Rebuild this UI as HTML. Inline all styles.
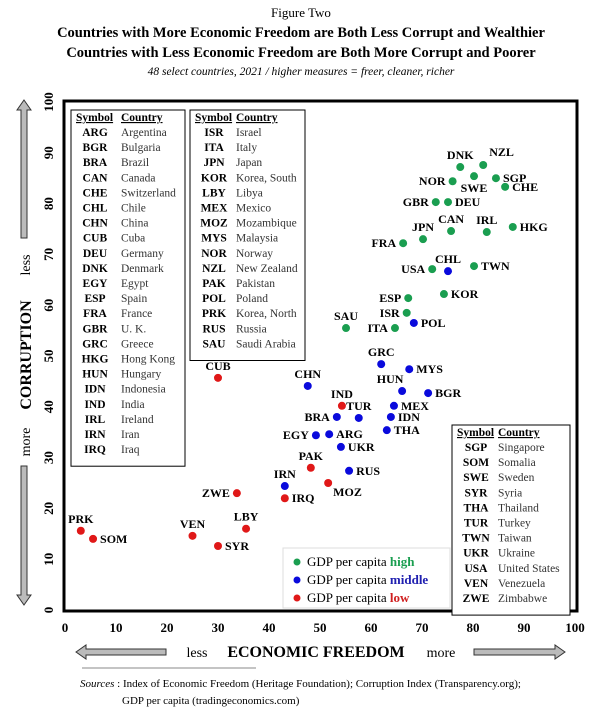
<!DOCTYPE html>
<html><head><meta charset="utf-8">
<style>
html,body{margin:0;padding:0;background:#fff;}
svg{display:block;font-family:"Liberation Serif",serif;}
</style></head>
<body>
<svg id="chart" width="602" height="713" viewBox="0 0 602 713" xmlns="http://www.w3.org/2000/svg">
<text x="301" y="17" text-anchor="middle" font-size="13">Figure Two</text>
<text x="301" y="37" text-anchor="middle" font-size="14.5" font-weight="bold">Countries with More Economic Freedom are Both Less Corrupt and Wealthier</text>
<text x="301" y="57" text-anchor="middle" font-size="14.5" font-weight="bold">Countries with Less Economic Freedom are Both More Corrupt and Poorer</text>
<text x="301" y="75" text-anchor="middle" font-size="11.5" font-style="italic">48 select countries, 2021 / higher measures = freer, cleaner, richer</text>
<rect x="64" y="101" width="513" height="510" fill="none" stroke="#000" stroke-width="3"/>
<g id="ticks"></g>
<g id="tables"></g>
<g id="points"></g>
<g>
<rect x="283" y="548" width="167" height="60" fill="#fff" stroke="#ddd" stroke-width="1"/>
<circle cx="297" cy="562" r="3.5" fill="#1a9e50"/>
<text x="307" y="566" font-size="13">GDP per capita <tspan fill="#1a9e50" font-weight="bold">high</tspan></text>
<circle cx="297" cy="580" r="3.5" fill="#0a0adc"/>
<text x="307" y="584" font-size="13">GDP per capita <tspan fill="#2020b0" font-weight="bold">middle</tspan></text>
<circle cx="297" cy="598" r="3.5" fill="#e01818"/>
<text x="307" y="602" font-size="13">GDP per capita <tspan fill="#d02020" font-weight="bold">low</tspan></text>
</g>
<g>
<path d="M24 100 L31 110 L27 110 L27 238 L21 238 L21 110 L17 110 Z" fill="#bbb" stroke="#333" stroke-width="1"/>
<path d="M24 605 L31 595 L27 595 L27 466 L21 466 L21 595 L17 595 Z" fill="#bbb" stroke="#333" stroke-width="1"/>
<text transform="translate(30,265) rotate(-90)" text-anchor="middle" font-size="14">less</text>
<text transform="translate(31,355) rotate(-90)" text-anchor="middle" font-size="16" font-weight="bold">CORRUPTION</text>
<text transform="translate(30,442) rotate(-90)" text-anchor="middle" font-size="14">more</text>
</g>
<g>
<path d="M76 652 L86 645 L86 649 L166 649 L166 655 L86 655 L86 659 Z" fill="#bbb" stroke="#333" stroke-width="1"/>
<path d="M565 652 L555 645 L555 649 L474 649 L474 655 L555 655 L555 659 Z" fill="#bbb" stroke="#333" stroke-width="1"/>
<text x="197" y="657" text-anchor="middle" font-size="14">less</text>
<text x="316" y="657" text-anchor="middle" font-size="16" font-weight="bold">ECONOMIC FREEDOM</text>
<text x="441" y="657" text-anchor="middle" font-size="14">more</text>
</g>
<line x1="82" y1="668" x2="256" y2="668" stroke="#888" stroke-width="1"/>
<text x="80" y="687" font-size="11"><tspan font-style="italic">Sources</tspan> :  Index of Economic Freedom (Heritage Foundation); Corruption Index (Transparency.org);</text>
<text x="122" y="704" font-size="11">GDP per capita (tradingeconomics.com)</text>
</svg>
<script>
const codes=["ARG","BGR","BRA","CAN","CHE","CHL","CHN","CUB","DEU","DNK","EGY","ESP","FRA","GBR","GRC","HKG","HUN","IDN","IND","IRL","IRN","IRQ","ISR","ITA","JPN","KOR","LBY","MEX","MOZ","MYS","NOR","NZL","PAK","POL","PRK","RUS","SAU","SGP","SOM","SWE","SYR","THA","TUR","TWN","UKR","USA","VEN","ZWE"];
const freedom=[51.8,71.2,53.3,75.7,86.3,75.1,47.6,30,75.1,77.5,49.2,67.3,66.3,72.7,62,87.8,66.1,63.9,54.3,82.7,43.1,43.1,67,64.7,70.2,74.3,35.5,64.5,51.6,67.5,76,82,48.2,68.4,3.1,55.7,55.1,84.5,5.5,80.2,30,63.1,57.6,80.2,54.1,72,25,33.7];
const corruption=[34.6,42.7,38,74.6,83.3,66.7,44.1,45.7,80.3,87.2,34.4,61.4,72.2,80.3,48.4,75.4,43.1,38,40.2,74.4,24.4,22,58.5,55.5,73,62.2,16,40.2,25,47.4,84.4,87.6,28,56.5,15.6,27.4,55.5,85,14,85.4,12.6,35.4,37.8,67.7,32.1,67.1,14.6,23];
const gdp=["M","M","M","H","H","M","M","L","H","H","M","H","H","H","M","H","M","M","L","H","M","L","H","H","H","H","L","M","L","M","H","H","L","M","L","M","H","H","L","H","L","M","M","H","M","H","L","L"];
const labelPos={DNK:"a",NZL:"ar",SWE:"b",SGP:"r",NOR:"l",CHE:"r",GBR:"l",DEU:"r",JPN:"a",CAN:"a",IRL:"a",HKG:"r",FRA:"l",USA:"l",CHL:"a",TWN:"r",KOR:"r",ESP:"l",ISR:"l",POL:"r",ITA:"l",SAU:"a",GRC:"a",MYS:"r",CHN:"a",HUN:"al",BGR:"r",IND:"a",MEX:"r",BRA:"l",TUR:"a",IDN:"r",EGY:"l",ARG:"r",THA:"r",UKR:"r",PAK:"a",RUS:"r",MOZ:"br",IRN:"a",IRQ:"r",ZWE:"l",CUB:"a",PRK:"a",SOM:"r",VEN:"a",SYR:"r",LBY:"a"};
const xTicks=[0,10,20,30,40,50,60,70,80,90,100];
const yTicks=[0,10,20,30,40,50,60,70,80,90,100];
const table1=[["ARG","Argentina"],["BGR","Bulgaria"],["BRA","Brazil"],["CAN","Canada"],["CHE","Switzerland"],["CHL","Chile"],["CHN","China"],["CUB","Cuba"],["DEU","Germany"],["DNK","Denmark"],["EGY","Egypt"],["ESP","Spain"],["FRA","France"],["GBR","U. K."],["GRC","Greece"],["HKG","Hong Kong"],["HUN","Hungary"],["IDN","Indonesia"],["IND","India"],["IRL","Ireland"],["IRN","Iran"],["IRQ","Iraq"]];
const table2=[["ISR","Israel"],["ITA","Italy"],["JPN","Japan"],["KOR","Korea, South"],["LBY","Libya"],["MEX","Mexico"],["MOZ","Mozambique"],["MYS","Malaysia"],["NOR","Norway"],["NZL","New Zealand"],["PAK","Pakistan"],["POL","Poland"],["PRK","Korea, North"],["RUS","Russia"],["SAU","Saudi Arabia"]];
const table3=[["SGP","Singapore"],["SOM","Somalia"],["SWE","Sweden"],["SYR","Syria"],["THA","Thailand"],["TUR","Turkey"],["TWN","Taiwan"],["UKR","Ukraine"],["USA","United States"],["VEN","Venezuela"],["ZWE","Zimbabwe"]];

const NS="http://www.w3.org/2000/svg";
const X=v=>65+v*5.1, Y=v=>610-v*5.08;
const colors={H:"#1a9e50",M:"#0a0adc",L:"#e01818"};
function mk(tag,attrs,parent,txt){const e=document.createElementNS(NS,tag);for(const k in attrs)e.setAttribute(k,attrs[k]);if(txt!==undefined)e.textContent=txt;parent.appendChild(e);return e;}
const tg=document.getElementById('ticks');
xTicks.forEach(t=>{const e=mk('text',{x:X(t),y:632,'text-anchor':'middle','font-size':13,'font-weight':'bold'},tg,t);

});
yTicks.forEach(t=>{const e=mk('text',{transform:`translate(53,${Y(t)}) rotate(-90)`,'text-anchor':'middle','font-size':13,'font-weight':'bold'},tg,t);

});

const tb=document.getElementById('tables');
function table(rows,x,y,w,rowH,c2){
  const g=mk('g',{},tb);
  
  
  const h=24+rows.length*rowH;
  mk('rect',{x:x,y:y,width:w,height:h,fill:'#fff',stroke:'#000','stroke-width':1},g);
  mk('text',{x:x+5,y:y+11,'font-size':11.5,'font-weight':'bold','text-decoration':'underline'},g,'Symbol');
  mk('text',{x:x+c2,y:y+11,'font-size':11.5,'font-weight':'bold','text-decoration':'underline'},g,'Country');
  rows.forEach((r,i)=>{
    const yy=y+26+i*rowH;
    const a=mk('text',{x:x+24,y:yy,'text-anchor':'middle','font-size':11.5,'font-weight':'bold'},g,r[0]);
    
    
    const b=mk('text',{x:x+c2,y:yy,'font-size':11.5,fill:'#333'},g,r[1]);
    
    
  });
}
table(table1,71,110,114,15.1,50);
table(table2,190,110,115,15.1,46);
table(table3,452,425,118,15.1,46);

const pg=document.getElementById('points');
codes.forEach((c,i)=>{
  const cx=X(freedom[i]),cy=Y(corruption[i]);
  const d=mk('circle',{cx:cx,cy:cy,r:4,fill:colors[gdp[i]]},pg);
  
  
  const p=labelPos[c]||'r';let tx=cx,ty=cy+4,anc='start';
  if(p==='r'){tx=cx+7;}
  else if(p==='l'){tx=cx-7;anc='end';}
  else if(p==='a'){ty=cy-8;anc='middle';}
  else if(p==='ar'){tx=cx+6;ty=cy-9;}
  else if(p==='al'){tx=cx-12;ty=cy-8;anc='middle';}
  else if(p==='b'){ty=cy+16;anc='middle';}
  else if(p==='br'){tx=cx+5;ty=cy+13;}
  const t=mk('text',{x:tx,y:ty,'text-anchor':anc,'font-size':12,'font-weight':'bold'},pg,c);
  
  
});
</script>
</body></html>
